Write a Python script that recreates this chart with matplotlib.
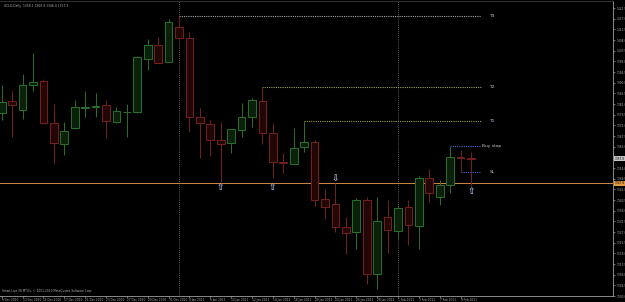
import matplotlib
matplotlib.use("Agg")
import matplotlib.pyplot as plt
import numpy as np
from matplotlib.transforms import blended_transform_factory

# daily bars, GOLD
DATES = [
    "9 Dec 2010", "10 Dec 2010", "13 Dec 2010", "14 Dec 2010", "15 Dec 2010",
    "16 Dec 2010", "17 Dec 2010", "20 Dec 2010", "21 Dec 2010", "22 Dec 2010",
    "23 Dec 2010", "24 Dec 2010", "27 Dec 2010", "28 Dec 2010", "29 Dec 2010",
    "30 Dec 2010", "31 Dec 2010", "3 Jan 2011", "4 Jan 2011", "5 Jan 2011",
    "6 Jan 2011", "7 Jan 2011", "10 Jan 2011", "11 Jan 2011", "12 Jan 2011",
    "13 Jan 2011", "14 Jan 2011", "17 Jan 2011", "18 Jan 2011", "19 Jan 2011",
    "20 Jan 2011", "21 Jan 2011", "24 Jan 2011", "25 Jan 2011", "26 Jan 2011",
    "27 Jan 2011", "28 Jan 2011", "31 Jan 2011", "1 Feb 2011", "2 Feb 2011",
    "3 Feb 2011", "4 Feb 2011", "7 Feb 2011", "8 Feb 2011", "9 Feb 2011",
    "10 Feb 2011",
]
OPENS = [
    1377.1, 1382.4, 1378.5, 1388.9, 1390.8, 1372.9, 1364.2, 1370.8, 1379.2, 1379.8,
    1380.5, 1373.3, 1377.5, 1377.5, 1399.9, 1405.8, 1398.9, 1413.4, 1408.8, 1375.4,
    1372.5, 1365.7, 1364.4, 1370.1, 1375.4, 1382.4, 1368.7, 1356.4, 1355.7, 1363.0,
    1365.0, 1341.1, 1338.7, 1329.0, 1326.9, 1340.5, 1309.1, 1333.5, 1327.6, 1337.4,
    1329.7, 1349.7, 1341.9, 1346.9, 1358.5, 1358.1,
]
HIGHS = [
    1389.1, 1386.7, 1393.7, 1402.7, 1391.5, 1380.9, 1373.4, 1382.7, 1386.5, 1385.6,
    1382.7, 1379.9, 1380.9, 1401.3, 1408.6, 1409.5, 1416.9, 1418.2, 1411.6, 1379.5,
    1374.3, 1373.6, 1370.6, 1381.3, 1383.4, 1388.1, 1372.9, 1360.5, 1370.8, 1374.0,
    1365.7, 1345.0, 1347.6, 1333.5, 1341.2, 1341.7, 1341.9, 1340.5, 1338.4, 1340.5,
    1350.7, 1353.5, 1349.0, 1363.0, 1361.5, 1360.9,
]
LOWS = [
    1374.3, 1367.0, 1374.8, 1386.4, 1372.6, 1355.7, 1359.4, 1370.5, 1375.6, 1375.7,
    1366.7, 1373.0, 1367.0, 1377.3, 1395.4, 1398.2, 1398.6, 1408.1, 1369.4, 1358.4,
    1359.1, 1347.6, 1360.2, 1367.2, 1371.2, 1364.2, 1349.7, 1352.0, 1355.5, 1360.7,
    1338.0, 1332.4, 1327.1, 1317.7, 1319.7, 1305.1, 1303.0, 1318.0, 1324.5, 1321.5,
    1319.7, 1339.8, 1338.4, 1343.3, 1352.5, 1346.4,
]
CLOSES = [
    1382.0, 1380.5, 1388.9, 1390.3, 1372.9, 1364.5, 1369.8, 1379.9, 1379.9, 1380.0,
    1373.7, 1378.2, 1377.6, 1400.8, 1405.8, 1398.5, 1415.8, 1408.8, 1375.4, 1372.9,
    1365.7, 1364.0, 1370.5, 1375.4, 1382.7, 1368.9, 1356.4, 1356.0, 1362.3, 1365.0,
    1340.5, 1337.4, 1329.3, 1326.5, 1340.5, 1309.1, 1331.5, 1327.7, 1337.3, 1329.8,
    1349.7, 1343.3, 1346.7, 1358.5, 1358.3, 1357.9,
]

# target / order lines: (label, price, start bar)
TARGETS = [("T3", 1418.2, 17), ("T2", 1388.1, 25), ("T1", 1374.0, 29)]
BUY_STOP = ("Buy stop", 1363.5, 43)
STOP_LOSS = ("SL", 1352.2, 44)
SUPPORT = 1347.6
LINES_END = 46

# fractal-style arrows: (bar, price, symbol)
ARROWS = [(21, 1346.0, "⇧"), (26, 1346.0, "⇧"), (32, 1349.6, "⇩"), (45, 1344.0, "⇧")]

TITLE = "GOLD,Daily  1358.1 1360.9 1346.4 1357.9"
FOOTER = "Smart Live 38 MT4's, © 2001-2010 MetaQuotes Software Corp."

BULL_EDGE, BULL_FILL = "#2a702a", "#0b200b"
BEAR_EDGE, BEAR_FILL = "#752020", "#230707"
TXT = "#b0b0b0"

fig = plt.figure(figsize=(6.25, 3.02), dpi=100, facecolor="black")
ax = fig.add_axes([0, 6 / 302, 613 / 625, 295 / 302])
ax.set_facecolor("black")

o = np.array(OPENS)
h = np.array(HIGHS)
l = np.array(LOWS)
c = np.array(CLOSES)
x = np.arange(len(o))
up = c >= o
edge = np.where(up, BULL_EDGE, BEAR_EDGE)
fill = np.where(up, BULL_FILL, BEAR_FILL)

ax.vlines(x, l, h, colors=edge, linewidth=0.7, zorder=2)
body_lo = np.minimum(o, c)
body_h = np.maximum(np.abs(c - o), 0.05)
ax.bar(x, body_h, bottom=body_lo, width=0.74, color=fill, edgecolor=edge,
       linewidth=0.7, zorder=3)

# month separators
months = [d.split()[1] for d in DATES]
for i in range(1, len(months)):
    if months[i] != months[i - 1]:
        ax.axvline(i, color="#7a7a7a", linestyle=(0, (1, 1.5)), linewidth=0.6, zorder=1)

# target lines
t_colors = {"T3": "#a8a8a8", "T2": "#a0a060", "T1": "#9aa050"}
for name, price, start in TARGETS:
    ax.hlines(price, start, LINES_END, colors=t_colors[name], linestyles=(0, (1, 1)),
              linewidth=0.8, zorder=1)
    ax.text(LINES_END + 0.7, price, name, color="#c8c8c8", fontsize=3.2,
            va="center", ha="left")

for name, price, start in (BUY_STOP, STOP_LOSS):
    ax.hlines(price, start, LINES_END, colors="#5566c8", linestyles=(0, (1, 1)),
              linewidth=0.8, zorder=1)
    off = 0.05 if name == "Buy stop" else 0.8
    ax.text(LINES_END + off, price, name, color="#c8c8c8", fontsize=3.2,
            va="center", ha="left")

ax.axhline(SUPPORT, color="#d08a40", linewidth=0.7, zorder=1)

for bar, price, sym in ARROWS:
    ax.text(bar, price, sym, color="#a8bce0", fontsize=6.5, ha="center", va="center",
            fontweight="bold", zorder=4)

ax.set_xlim(-0.163, 58.61)
ax.set_ylim(1300.0, 1424.5)

# price axis
ticks = np.arange(1300.0, 1422.0, 4.5)
ax.yaxis.tick_right()
ax.set_yticks(ticks)
ax.set_yticklabels([f"{v:.1f}" for v in ticks])
ax.tick_params(axis="y", colors="#9a9a9a", labelcolor=TXT, labelsize=2.1,
               length=1.5, width=0.5, pad=0.8)

# date axis
ax.set_xticks(x[::2])
ax.set_xticklabels(DATES[::2])
for lbl in ax.get_xticklabels():
    lbl.set_ha("left")
ax.tick_params(axis="x", colors="#9a9a9a", labelcolor=TXT, labelsize=2.1,
               length=1.2, width=0.5, pad=0.3)

ax.spines["left"].set_visible(False)
ax.spines["top"].set_color("#3a3a3a")
ax.spines["right"].set_color("#a0a0a0")
ax.spines["bottom"].set_color("#a0a0a0")
for side in ("top", "right", "bottom"):
    ax.spines[side].set_linewidth(0.6)

# price boxes on the axis
trans = blended_transform_factory(ax.transAxes, ax.transData)
ax.text(1.003, CLOSES[-1], f"{CLOSES[-1]:.1f}", transform=trans, fontsize=2.1,
        color="black", va="center", ha="left", zorder=6,
        bbox=dict(boxstyle="square,pad=0.2", facecolor="#c4c4c4", edgecolor="none"))
ax.text(1.003, SUPPORT, f"{SUPPORT:.1f}", transform=trans, fontsize=2.1,
        color="black", va="center", ha="left", zorder=6,
        bbox=dict(boxstyle="square,pad=0.2", facecolor="#e09a40", edgecolor="none"))

fig.text(4 / 625, 1 - 6 / 302, TITLE, fontsize=2.2, color=TXT, va="center", ha="left")
fig.text(2 / 625, 1 - 291 / 302, FOOTER, fontsize=2.1, color=TXT, va="center", ha="left")

fig.savefig("out.png", dpi=100, facecolor="black")
